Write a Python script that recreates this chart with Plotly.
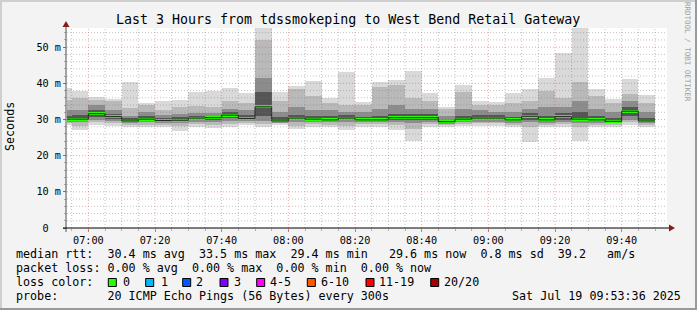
import plotly.graph_objects as go
import pandas as pd

# ---------------- data ----------------
bar_start = pd.date_range("2025-07-19 06:50:00", periods=36, freq="5min")
median = [30.1, 30.1, 31.6, 30.8, 29.6, 30.1, 29.7, 29.8, 30.4, 30.5, 31.2, 30.3,
          33.5, 29.6, 30.4, 30.1, 29.9, 30.4, 29.9, 29.9, 30.5, 30.5, 30.5, 29.4,
          30.1, 30.4, 30.4, 29.9, 30.9, 29.9, 30.8, 30.1, 29.9, 29.5, 32.3, 29.6]
lo1 = [28.5, 27.1, 28.5, 28.3, 27.8, 27.8, 28.0, 26.8, 28.0, 27.6, 28.0, 28.5,
       28.0, 28.5, 27.3, 28.0, 28.0, 27.1, 28.0, 28.0, 27.2, 24.0, 28.0, 28.0,
       28.2, 28.3, 28.3, 28.0, 23.9, 28.0, 28.0, 24.0, 27.8, 28.0, 28.5, 28.0]
lo2 = [29.0, 28.2, 29.2, 29.0, 28.5, 28.5, 28.6, 28.2, 28.8, 28.5, 28.8, 29.0,
       28.8, 28.9, 28.3, 28.7, 28.6, 28.3, 28.7, 28.7, 28.4, 27.5, 28.8, 28.5,
       28.8, 28.9, 28.9, 28.6, 28.0, 28.6, 28.7, 27.8, 28.5, 28.5, 29.2, 28.6]
lo3 = [29.4, 29.2, 29.8, 29.6, 29.0, 29.2, 29.0, 29.0, 29.4, 29.3, 29.6, 29.5,
       29.5, 29.1, 29.2, 29.3, 29.2, 29.3, 29.2, 29.2, 29.3, 29.0, 29.4, 28.8,
       29.3, 29.4, 29.4, 29.1, 29.3, 29.1, 29.4, 29.0, 29.1, 28.9, 30.0, 29.0]
lo4 = [29.7, 29.6, 30.6, 30.2, 29.3, 29.6, 29.3, 29.4, 29.9, 29.9, 30.3, 29.9,
       31.0, 29.3, 29.8, 29.7, 29.5, 29.9, 29.5, 29.5, 29.9, 29.8, 29.9, 29.1,
       29.7, 29.9, 29.9, 29.5, 30.0, 29.5, 30.0, 29.6, 29.5, 29.2, 31.0, 29.3]
hi4 = [31.0, 31.2, 32.5, 31.5, 30.5, 31.0, 30.5, 30.6, 31.0, 31.0, 32.0, 31.2,
       37.5, 30.8, 31.2, 31.0, 31.0, 31.2, 30.8, 31.0, 31.5, 31.5, 31.5, 30.0,
       31.0, 31.2, 31.2, 30.8, 31.8, 31.0, 31.8, 32.0, 31.0, 30.5, 33.5, 30.5]
hi3 = [32.5, 32.6, 34.0, 32.5, 31.0, 32.0, 31.2, 31.5, 31.8, 31.8, 33.0, 32.5,
       41.5, 32.0, 33.5, 32.5, 32.5, 32.0, 32.0, 33.0, 34.0, 33.0, 33.0, 31.0,
       33.0, 32.5, 32.0, 32.0, 33.0, 33.5, 33.5, 35.0, 33.0, 32.0, 35.0, 32.0]
hi2 = [35.5, 36.0, 35.5, 35.0, 33.2, 34.0, 32.5, 33.5, 33.8, 33.5, 35.0, 34.5,
       52.0, 35.0, 38.5, 36.5, 34.5, 34.0, 34.0, 39.0, 39.5, 36.0, 35.0, 32.8,
       37.5, 34.0, 34.0, 34.5, 35.0, 38.0, 36.0, 40.5, 36.5, 34.5, 37.0, 34.5]
hi1 = [38.8, 37.9, 36.2, 35.8, 40.3, 34.7, 35.1, 35.4, 37.5, 37.9, 38.8, 37.3,
       56.0, 37.7, 39.3, 40.6, 36.0, 43.2, 34.8, 40.4, 40.9, 43.5, 37.3, 33.5,
       39.5, 35.1, 34.9, 37.3, 38.4, 41.5, 48.4, 56.0, 38.4, 35.8, 41.2, 36.7]

y_tick_vals = [0, 10, 20, 30, 40, 50]
y_tick_text = ["0\u00a0\u00a0", "10 m", "20 m", "30 m", "40 m", "50 m"]
x_tick_vals = pd.date_range("2025-07-19 07:00", "2025-07-19 09:40", freq="20min")
x_tick_text = [t.strftime("%H:%M") for t in x_tick_vals]

loss_labels = ["0", "1", "2", "3", "4-5", "6-10", "11-19", "20/20"]
loss_colors = ["#26ff00", "#00b8ff", "#0059ff", "#7e00ff", "#ff00ff", "#ff5500", "#ff0000", "#a10000"]

title = "Last 3 Hours from tdssmokeping to West Bend Retail Gateway"
line1 = "median rtt:  30.4 ms avg  33.5 ms max  29.4 ms min   29.6 ms now  0.8 ms sd  39.2   am/s"
line2 = "packet loss: 0.00 % avg  0.00 % max  0.00 % min  0.00 % now"
line3 = "loss color:"
line4 = "probe:       20 ICMP Echo Pings (56 Bytes) every 300s"
stamp = "Sat Jul 19 09:53:36 2025"

# ---------------- geometry ----------------
W, H = 697, 310
L, R, T, B = 67, 667, 28, 228
X0 = pd.Timestamp("2025-07-19 06:53:36")
X1 = pd.Timestamp("2025-07-19 09:53:36")
Y_MAX = 55.3
STEP_MS = 300000


def px(x):
    return (x - L) / (R - L)


def py(y):
    return (B - y) / (B - T)


MONO = "DejaVu Sans Mono"
fig = go.Figure()

bands = [(lo1, hi1, "#d9d9d9"), (lo2, hi2, "#b9b9b9"), (lo3, hi3, "#8c8c8c"), (lo4, hi4, "#555555")]
for lo, hi, col in bands:
    fig.add_trace(go.Bar(
        x=bar_start, base=lo, y=[h - l for l, h in zip(lo, hi)],
        width=STEP_MS, offset=0, marker=dict(color=col, line=dict(width=0)),
        hoverinfo="skip", showlegend=False))

# black step line through medians
step_x = list(bar_start) + [bar_start[-1] + pd.Timedelta(minutes=5)]
step_y = median + [median[-1]]
fig.add_trace(go.Scatter(x=step_x, y=step_y, mode="lines", line=dict(color="#202020", width=1, shape="hv"),
                         hoverinfo="skip", showlegend=False))
# green median bands (loss = 0)
fig.add_trace(go.Bar(
    x=bar_start, base=[m - 0.4 for m in median], y=[0.8] * len(median),
    width=STEP_MS, offset=0, marker=dict(color=loss_colors[0], line=dict(width=0)),
    hoverinfo="skip", showlegend=False))

shapes = []
# grid (drawn above the smoke like rrdtool)
minor_col = "rgba(120,120,120,0.45)"
major_col = "rgba(225,60,60,0.45)"
for v in range(2, 56, 2):
    if v % 10 == 0:
        continue
    shapes.append(dict(type="line", xref="paper", yref="y", x0=0, x1=1, y0=v, y1=v,
                       line=dict(color=minor_col, width=1, dash="1px,2px"), layer="above"))
for t in pd.date_range("2025-07-19 06:55", "2025-07-19 09:50", freq="5min"):
    if t.minute % 20 == 0:
        continue
    shapes.append(dict(type="line", xref="x", yref="paper", x0=t, x1=t, y0=0, y1=1,
                       line=dict(color=minor_col, width=1, dash="1px,2px"), layer="above"))
for v in y_tick_vals[1:]:
    shapes.append(dict(type="line", xref="paper", yref="y", x0=0, x1=1, y0=v, y1=v,
                       line=dict(color=major_col, width=1, dash="1px,2px"), layer="above"))
for t in x_tick_vals:
    shapes.append(dict(type="line", xref="x", yref="paper", x0=t, x1=t, y0=0, y1=1,
                       line=dict(color=major_col, width=1, dash="1px,2px"), layer="above"))

# axes with arrows
shapes.append(dict(type="line", xref="paper", yref="paper", x0=px(66), x1=px(66), y0=py(232), y1=py(25),
                   line=dict(color="#555555", width=1), layer="above"))
shapes.append(dict(type="line", xref="paper", yref="paper", x0=px(63), x1=px(671), y0=py(228), y1=py(228),
                   line=dict(color="#000000", width=1), layer="above"))
shapes.append(dict(type="path", xref="paper", yref="paper",
                   path=f"M {px(62.5)} {py(27)} L {px(69.5)} {py(27)} L {px(66)} {py(21)} Z",
                   fillcolor="#8b1a1a", line=dict(width=0), layer="above"))
shapes.append(dict(type="path", xref="paper", yref="paper",
                   path=f"M {px(669)} {py(224.5)} L {px(669)} {py(231.5)} L {px(675)} {py(228)} Z",
                   fillcolor="#8b1a1a", line=dict(width=0), layer="above"))

# border
shapes.append(dict(type="rect", xref="paper", yref="paper", x0=px(0), x1=px(697), y0=py(0), y1=py(2),
                   fillcolor="#cfcfcf", line=dict(width=0)))
shapes.append(dict(type="rect", xref="paper", yref="paper", x0=px(0), x1=px(2), y0=py(0), y1=py(310),
                   fillcolor="#cfcfcf", line=dict(width=0)))
shapes.append(dict(type="rect", xref="paper", yref="paper", x0=px(695), x1=px(697), y0=py(0), y1=py(310),
                   fillcolor="#9a9a9a", line=dict(width=0)))
shapes.append(dict(type="rect", xref="paper", yref="paper", x0=px(0), x1=px(697), y0=py(308), y1=py(310),
                   fillcolor="#9a9a9a", line=dict(width=0)))

# loss colour boxes
box_x = [108.3, 145.7, 182.7, 220.0, 256.7, 307.3, 366.0, 430.7]
lab_x = [124.0, 161.7, 197.3, 234.7, 270.7, 321.7, 380.0, 445.0]
for bx, c in zip(box_x, loss_colors):
    shapes.append(dict(type="rect", xref="paper", yref="paper", x0=px(bx), x1=px(bx + 8), y0=py(286.5), y1=py(278.5),
                       fillcolor=c, line=dict(color="#000000", width=1)))

annotations = []


def txt(s, x, y, size=11.7, anchor="left", color="#000000", angle=0):
    annotations.append(dict(text=s.replace(" ", "\u00a0"), x=px(x), y=py(y), xref="paper", yref="paper",
                            xanchor=anchor, yanchor="middle", showarrow=False, textangle=angle,
                            font=dict(family=MONO, size=size, color=color), borderpad=0, borderwidth=0))


txt(title, 348, 19, size=13.3, anchor="center")
txt(line1, 15.5, 254.3)
txt(line2, 15.5, 268.3)
txt(line3, 15.5, 282.3)
for lx, lab in zip(lab_x, loss_labels):
    txt(lab, lx - 1, 282.3)
txt(line4, 15.5, 296.2)
txt(stamp, 681, 296.2, anchor="right")
txt("Seconds", 10, 127, anchor="center", angle=-90)
txt("RRDTOOL / TOBI OETIKER", 688, 52, size=7.5, anchor="center", color="#a0a0a0", angle=90)

fig.update_layout(
    width=W, height=H,
    margin=dict(l=L, r=W - R, t=T, b=H - B, pad=0),
    paper_bgcolor="#f3f3f3", plot_bgcolor="#ffffff",
    barmode="overlay", bargap=0, showlegend=False,
    shapes=shapes, annotations=annotations,
    font=dict(family=MONO, color="#000000"),
    xaxis=dict(type="date", range=[X0, X1], tickmode="array", tickvals=x_tick_vals, ticktext=x_tick_text,
               showgrid=False, zeroline=False, showline=False,
               ticks="outside", ticklen=3, tickcolor="#e07070", tickwidth=1,
               tickfont=dict(family=MONO, size=10.2, color="#000000"),
               minor=dict(dtick=STEP_MS, ticks="outside", ticklen=2, tickcolor="#b0b0b0", showgrid=False),
               fixedrange=True),
    yaxis=dict(range=[0, Y_MAX], tickmode="array", tickvals=y_tick_vals, ticktext=y_tick_text,
               showgrid=False, zeroline=False, showline=False,
               ticks="outside", ticklen=3, tickcolor="#777777", tickwidth=1,
               tickfont=dict(family=MONO, size=10.2, color="#000000"),
               minor=dict(dtick=2, ticks="outside", ticklen=2, tickcolor="#b0b0b0", showgrid=False),
               fixedrange=True),
)

fig.write_html("out.html")
